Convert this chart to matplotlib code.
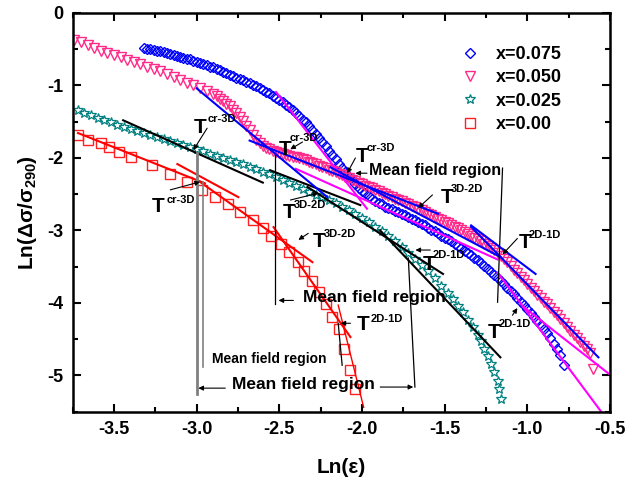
import matplotlib
matplotlib.use('Agg')
import matplotlib.pyplot as plt
from matplotlib.ticker import MultipleLocator

plt.rcParams['font.family'] = ['Liberation Sans', 'DejaVu Sans']
plt.rcParams['font.weight'] = 'bold'
plt.rcParams['mathtext.fontset'] = 'custom'
plt.rcParams['mathtext.rm'] = 'Liberation Sans:bold'
plt.rcParams['mathtext.it'] = 'Liberation Sans:bold'
plt.rcParams['mathtext.bf'] = 'Liberation Sans:bold'

# ---------------- data ----------------
x075 = [-3.32, -3.30, -3.28, -3.26, -3.24, -3.22, -3.20, -3.18, -3.16, -3.14, -3.12, -3.10, -3.08, -3.06,
        -3.04, -3.02, -3.00, -2.98, -2.96, -2.94, -2.92, -2.90, -2.88, -2.86, -2.84, -2.82, -2.80, -2.78,
        -2.76, -2.74, -2.72, -2.70, -2.68, -2.66, -2.64, -2.62, -2.60, -2.58, -2.56, -2.54, -2.52, -2.50,
        -2.48, -2.46, -2.44, -2.42, -2.40, -2.38, -2.36, -2.34, -2.32, -2.30, -2.28, -2.26, -2.24, -2.22,
        -2.20, -2.18, -2.16, -2.14, -2.12, -2.10, -2.08, -2.06, -2.04, -2.02, -2.00, -1.98, -1.96, -1.94,
        -1.92, -1.90, -1.88, -1.86, -1.84, -1.82, -1.80, -1.78, -1.76, -1.74, -1.72, -1.70, -1.68, -1.66,
        -1.64, -1.62, -1.60, -1.58, -1.56, -1.54, -1.52, -1.50, -1.48, -1.46, -1.44, -1.42, -1.40, -1.38,
        -1.36, -1.34, -1.32, -1.30, -1.28, -1.26, -1.24, -1.22, -1.20, -1.18, -1.16, -1.14, -1.12, -1.10,
        -1.08, -1.06, -1.04, -1.02, -1.00, -0.98, -0.96, -0.94, -0.92, -0.90, -0.88, -0.86, -0.84, -0.82,
        -0.80, -0.78]
y075 = [-0.48, -0.49, -0.50, -0.51, -0.52, -0.53, -0.54, -0.55, -0.57, -0.58, -0.59, -0.61, -0.62, -0.63,
        -0.64, -0.66, -0.67, -0.69, -0.70, -0.72, -0.74, -0.75, -0.77, -0.79, -0.81, -0.83, -0.85, -0.87,
        -0.89, -0.91, -0.93, -0.95, -0.97, -0.99, -1.01, -1.04, -1.06, -1.09, -1.11, -1.14, -1.17, -1.20,
        -1.23, -1.27, -1.30, -1.34, -1.38, -1.42, -1.47, -1.51, -1.56, -1.61, -1.67, -1.72, -1.78, -1.84,
        -1.90, -1.96, -2.02, -2.08, -2.14, -2.20, -2.26, -2.31, -2.36, -2.41, -2.46, -2.49, -2.53, -2.56,
        -2.59, -2.62, -2.64, -2.67, -2.69, -2.71, -2.73, -2.75, -2.77, -2.79, -2.82, -2.84, -2.86, -2.88,
        -2.91, -2.93, -2.96, -2.99, -3.01, -3.04, -3.07, -3.10, -3.12, -3.15, -3.18, -3.21, -3.24, -3.28,
        -3.31, -3.34, -3.38, -3.41, -3.45, -3.49, -3.53, -3.57, -3.61, -3.65, -3.70, -3.74, -3.79, -3.84,
        -3.88, -3.93, -3.98, -4.03, -4.08, -4.14, -4.19, -4.25, -4.31, -4.36, -4.42, -4.49, -4.57, -4.64,
        -4.72, -4.86]

x050 = [-3.74, -3.70, -3.66, -3.62, -3.58, -3.54, -3.50, -3.46, -3.42, -3.38, -3.34, -3.30, -3.26, -3.22,
        -3.18, -3.14, -3.10, -3.06, -3.02, -2.98, -2.94, -2.90,
        -2.88, -2.86, -2.84, -2.82, -2.80, -2.78, -2.76, -2.74, -2.72, -2.70, -2.68, -2.66, -2.64, -2.62,
        -2.60, -2.58, -2.56, -2.54, -2.52, -2.50, -2.48, -2.46, -2.44, -2.42, -2.40, -2.38, -2.36, -2.34,
        -2.32, -2.30, -2.28, -2.26, -2.24, -2.22, -2.20, -2.18, -2.16, -2.14, -2.12, -2.10, -2.08, -2.06,
        -2.04, -2.02, -2.00, -1.98, -1.96, -1.94, -1.92, -1.90, -1.88, -1.86, -1.84, -1.82, -1.80, -1.78,
        -1.76, -1.74, -1.72, -1.70, -1.68, -1.66, -1.64, -1.62, -1.60, -1.58, -1.56, -1.54, -1.52, -1.50,
        -1.48, -1.46, -1.44, -1.42, -1.40, -1.38, -1.36, -1.34, -1.32, -1.30, -1.28, -1.26, -1.24, -1.22,
        -1.20, -1.18, -1.16, -1.14, -1.12, -1.10, -1.08, -1.06, -1.04, -1.02, -1.00, -0.98, -0.96, -0.94,
        -0.92, -0.90, -0.88, -0.86, -0.84, -0.82, -0.80, -0.78, -0.76, -0.74, -0.72, -0.70, -0.68, -0.66,
        -0.64, -0.62, -0.60]
y050 = [-0.37, -0.40, -0.44, -0.48, -0.52, -0.55, -0.58, -0.61, -0.65, -0.68, -0.71, -0.74, -0.77, -0.80,
        -0.84, -0.88, -0.92, -0.96, -1.00, -1.04, -1.08, -1.12,
        -1.15, -1.18, -1.21, -1.25, -1.29, -1.34, -1.38, -1.43, -1.49, -1.56, -1.62, -1.69, -1.75, -1.80,
        -1.83, -1.86, -1.88, -1.90, -1.92, -1.93, -1.95, -1.96, -1.97, -1.98, -1.99, -2.00, -2.02, -2.03,
        -2.05, -2.07, -2.09, -2.11, -2.12, -2.14, -2.16, -2.18, -2.20, -2.22, -2.24, -2.26, -2.28, -2.30,
        -2.32, -2.34, -2.36, -2.38, -2.40, -2.42, -2.44, -2.46, -2.48, -2.50, -2.52, -2.54, -2.56, -2.58,
        -2.60, -2.62, -2.64, -2.66, -2.68, -2.70, -2.72, -2.75, -2.77, -2.79, -2.81, -2.84, -2.86, -2.88,
        -2.90, -2.93, -2.95, -2.97, -3.00, -3.02, -3.05, -3.07, -3.10, -3.12, -3.15, -3.18, -3.21, -3.24,
        -3.27, -3.31, -3.35, -3.39, -3.44, -3.49, -3.54, -3.59, -3.64, -3.69, -3.74, -3.79, -3.84, -3.89,
        -3.93, -3.98, -4.02, -4.07, -4.12, -4.17, -4.22, -4.27, -4.33, -4.39, -4.44, -4.49, -4.54, -4.59,
        -4.64, -4.69, -4.91]

x025 = [-3.72, -3.68, -3.64, -3.60, -3.56, -3.52, -3.48, -3.44, -3.40, -3.36, -3.32, -3.28, -3.24, -3.20,
        -3.16, -3.12, -3.08, -3.04, -3.00, -2.96, -2.92, -2.88, -2.84, -2.80, -2.76, -2.72, -2.68, -2.64,
        -2.60, -2.56, -2.52, -2.48, -2.44, -2.40, -2.36, -2.32, -2.28, -2.24, -2.20, -2.16, -2.12, -2.08,
        -2.04, -2.00, -1.96, -1.92, -1.88, -1.84, -1.80, -1.76, -1.72, -1.68, -1.64, -1.60, -1.56, -1.52,
        -1.48, -1.45, -1.42, -1.39, -1.36, -1.33, -1.30, -1.28, -1.26, -1.24, -1.22, -1.20, -1.18, -1.17,
        -1.16]
y025 = [-1.34, -1.38, -1.41, -1.45, -1.48, -1.51, -1.54, -1.57, -1.60, -1.63, -1.66, -1.68, -1.71, -1.74,
        -1.76, -1.79, -1.82, -1.85, -1.88, -1.91, -1.94, -1.97, -2.00, -2.03, -2.06, -2.09, -2.12, -2.15,
        -2.19, -2.22, -2.26, -2.30, -2.34, -2.38, -2.43, -2.47, -2.51, -2.54, -2.58, -2.62, -2.67, -2.72,
        -2.77, -2.83, -2.89, -2.95, -3.01, -3.08, -3.15, -3.23, -3.31, -3.40, -3.48, -3.56, -3.66, -3.76,
        -3.86, -3.95, -4.04, -4.13, -4.23, -4.33, -4.44, -4.53, -4.63, -4.73, -4.84, -4.95, -5.07, -5.19,
        -5.32]

x000 = [-3.72, -3.66, -3.58, -3.53, -3.47, -3.40, -3.27, -3.16, -3.06, -2.97, -2.89, -2.81, -2.74, -2.66,
        -2.60, -2.55, -2.49, -2.44, -2.39, -2.35, -2.30, -2.26, -2.22, -2.18, -2.14, -2.11, -2.07, -2.04]
y000 = [-1.69, -1.75, -1.80, -1.85, -1.92, -1.98, -2.10, -2.22, -2.33, -2.44, -2.54, -2.63, -2.75, -2.86,
        -2.97, -3.07, -3.18, -3.30, -3.43, -3.56, -3.70, -3.85, -4.01, -4.19, -4.36, -4.63, -4.92, -5.18]

labels = ['x=0.075', 'x=0.050', 'x=0.025', 'x=0.00']

# linear fit segments: (x0, x1, y0, y1)
blue_fits = [(-3.00, -2.21, -1.04, -2.54), (-2.68, -1.54, -1.76, -2.77),
             (-2.19, -1.16, -2.13, -3.37), (-1.34, -0.95, -2.93, -3.60), (-1.34, -0.57, -2.95, -4.75)]
magenta_fits = [(-2.52, -1.97, -1.09, -2.70), (-2.40, -1.18, -2.15, -3.40),
                (-1.18, -0.55, -3.58, -5.51), (-1.02, -0.505, -4.06, -4.98)]
black_fits = [(-3.445, -2.60, -1.48, -2.34), (-2.555, -2.01, -2.17, -2.65),
              (-2.33, -1.51, -2.40, -3.60), (-1.89, -1.163, -3.00, -4.75)]
red_fits = [(-3.718, -2.95, -1.656, -2.35), (-3.117, -2.748, -2.084, -2.54),
            (-2.978, -2.30, -2.333, -3.437), (-2.535, -2.07, -2.954, -4.47)]
red_thin_fits = [(-2.144, -1.99, -4.03, -5.44)]

# ---------------- figure ----------------
fig = plt.figure(figsize=(6.28, 4.79), dpi=100)
ax = fig.add_axes([0.1158, 0.1405, 0.8555, 0.8324])

c_blue, c_pink, c_teal, c_red, c_mag = '#0000ff', '#ff2a8a', '#008080', '#ff2020', '#ff00ff'

h1, = ax.plot(x075, y075, 'D', ms=5.5, mfc='none', mec=c_blue, mew=1.0, ls='none', label=labels[0])
h2, = ax.plot(x050, y050, 'v', ms=7, mfc='none', mec=c_pink, mew=1.0, ls='none', label=labels[1])
h3, = ax.plot(x025, y025, '*', ms=7, mfc='none', mec=c_teal, mew=0.9, ls='none', label=labels[2])
h4, = ax.plot(x000, y000, 's', ms=7, mfc='none', mec=c_red, mew=1.0, ls='none', label=labels[3])

for fits, col, lw in [(black_fits, 'black', 1.5), (red_fits, 'red', 1.5), (red_thin_fits, 'red', 1.0),
                      (magenta_fits, c_mag, 1.5), (blue_fits, c_blue, 1.5)]:
    for x0, x1, y0, y1 in fits:
        ax.plot([x0, x1], [y0, y1], color=col, lw=lw)

# vertical "mean field" markers
ax.plot([-3.00, -3.00], [-1.93, -5.26], color='gray', lw=2.0)
ax.plot([-2.96, -2.96], [-2.33, -4.89], color='gray', lw=1.2)
ax.plot([-2.525, -2.525], [-1.96, -4.02], color='black', lw=0.9)
ax.plot([-1.15, -1.18], [-2.14, -3.99], color='black', lw=0.9)
ax.plot([-1.72, -1.68], [-3.38, -5.16], color='black', lw=0.9)
ax.plot([-2.144, -2.12], [-4.28, -4.86], color='black', lw=0.9)

arrow = dict(arrowstyle='-|>', color='black', lw=0.8, mutation_scale=7, shrinkA=0, shrinkB=0)


def arr(x0, y0, x1, y1):
    ax.annotate('', xy=(x1, y1), xytext=(x0, y0), arrowprops=arrow)


def tl(x, y, sx, sy, sup):
    ax.text(x, y, 'T', fontsize=15, fontweight='bold', ha='left', va='baseline')
    ax.text(sx, sy, sup, fontsize=8, fontweight='bold', ha='left', va='baseline')


tl(-3.02, -1.66, -2.935, -1.505, 'cr-3D'); arr(-2.937, -1.59, -3.02, -1.89)
tl(-3.27, -2.75, -3.18, -2.62, 'cr-3D'); arr(-3.16, -2.44, -2.98, -2.33)
tl(-2.506, -1.96, -2.435, -1.77, 'cr-3D'); arr(-2.36, -1.78, -2.434, -1.88)
tl(-2.04, -2.06, -1.97, -1.905, 'cr-3D'); arr(-2.04, -2.0, -2.09, -2.21)
tl(-1.525, -2.62, -1.46, -2.47, '3D-2D'); arr(-1.574, -2.51, -1.66, -2.69)
tl(-2.48, -2.83, -2.415, -2.69, '3D-2D'); arr(-2.433, -2.58, -2.264, -2.485)
tl(-2.30, -3.23, -2.234, -3.09, '3D-2D'); arr(-2.325, -3.04, -2.385, -3.13)
tl(-1.63, -3.55, -1.57, -3.38, '2D-1D'); arr(-1.587, -3.27, -1.677, -3.27)
tl(-1.05, -3.245, -0.99, -3.11, '2D-1D'); arr(-1.06, -3.11, -1.15, -3.33)
tl(-1.24, -4.49, -1.175, -4.33, '2D-1D'); arr(-1.09, -4.17, -1.06, -4.07)
tl(-2.03, -4.37, -1.95, -4.265, '2D-1D'); arr(-2.07, -4.28, -2.13, -4.28)

ax.text(-1.96, -2.24, 'Mean field region', fontsize=11.5, fontweight='bold', ha='left', va='baseline')
arr(-1.97, -2.21, -2.04, -2.21)
ax.text(-2.36, -3.99, 'Mean field region', fontsize=12.5, fontweight='bold', ha='left', va='baseline')
arr(-2.415, -3.965, -2.505, -3.965)
ax.text(-2.905, -4.83, 'Mean field region', fontsize=10, fontweight='bold', ha='left', va='baseline')
ax.text(-2.785, -5.19, 'Mean field region', fontsize=12.5, fontweight='bold', ha='left', va='baseline')
arr(-2.827, -5.175, -2.99, -5.175)
arr(-1.89, -5.16, -1.69, -5.16)

ax.set_xlim(-3.75, -0.5)
ax.set_ylim(-5.5, 0)
ax.xaxis.set_minor_locator(MultipleLocator(0.25))
ax.yaxis.set_minor_locator(MultipleLocator(0.5))
ax.set_xticks([-3.5, -3.0, -2.5, -2.0, -1.5, -1.0, -0.5])
ax.set_xticklabels(['-3.5', '-3.0', '-2.5', '-2.0', '-1.5', '-1.0', '-0.5'], fontweight='bold')
ax.set_yticks([0, -1, -2, -3, -4, -5])
ax.set_yticklabels(['0', '-1', '-2', '-3', '-4', '-5'], fontweight='bold')
ax.tick_params(which='both', direction='in', top=True, right=True, width=1.5, labelsize=13)
ax.tick_params(which='major', length=6, pad=7)
ax.tick_params(which='minor', length=3.5)
for s in ax.spines.values():
    s.set_linewidth(1.8)

ax.set_xlabel('Ln(ε)', fontsize=15, fontweight='bold', labelpad=14)
ax.set_ylabel('Ln(Δσ/σ$_{290}$)', fontsize=15, fontweight='bold', labelpad=6)

leg = ax.legend(handles=[h1, h2, h3, h4], loc='upper left', bbox_to_anchor=(0.71, 0.935), frameon=False,
                handlelength=1.0, handletextpad=0.9, labelspacing=0.35, borderaxespad=0,
                prop={'weight': 'bold', 'size': 13})

fig.savefig('out.png', dpi=100)
